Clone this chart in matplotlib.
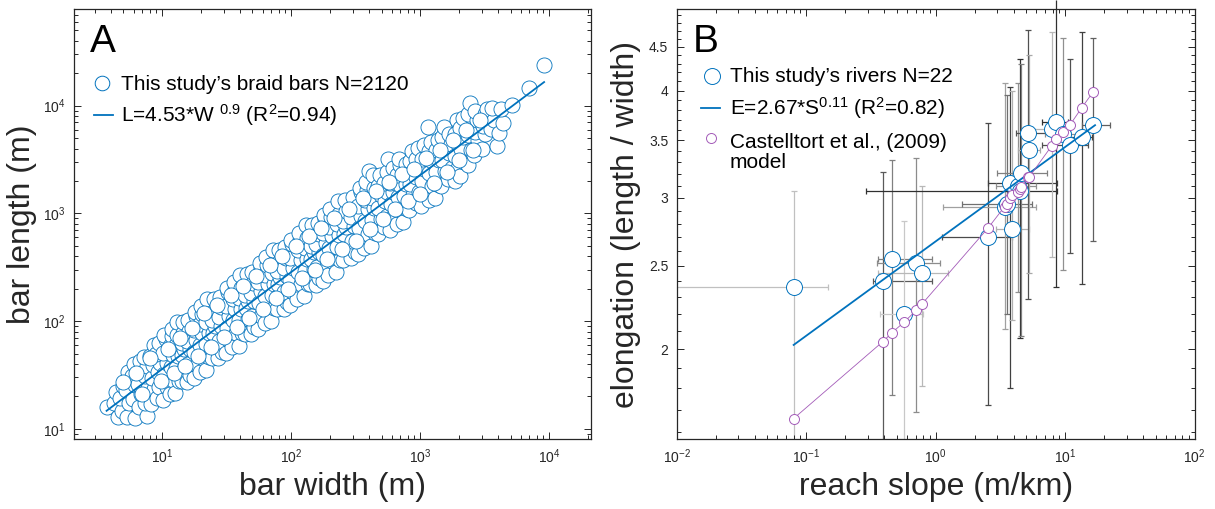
import numpy as np
import matplotlib
matplotlib.use("Agg")
import matplotlib.pyplot as plt
from matplotlib.ticker import LogLocator, FixedLocator, NullFormatter, FixedFormatter

plt.rcParams['font.family'] = ['Liberation Sans', 'DejaVu Sans']
plt.rcParams['mathtext.fontset'] = 'custom'
plt.rcParams['mathtext.rm'] = 'Liberation Sans'
plt.rcParams['mathtext.it'] = 'Liberation Sans:italic'
plt.rcParams['mathtext.bf'] = 'Liberation Sans:bold'

# ---------------- Panel A data (bar width, bar length in m) ----------------
bar_width = [
    3.7,
    4.5, 4.2, 4.4,
    4.9, 4.7, 5.0,
    5.3, 5.5, 5.2, 5.6, 5.4,
    6.1, 5.9, 6.2, 5.8, 6.0,
    6.6, 6.9, 6.5, 6.8, 6.7,
    7.6, 7.3, 7.7, 7.4, 7.6, 7.2,
    8.2, 8.6, 8.3, 8.5, 8.1, 8.7,
    9.1, 9.5, 9.2, 9.6, 9.0, 9.4,
    10.2, 10.8, 10.4, 10.9, 10.1, 10.6, 10.3,
    11.5, 12.1, 11.7, 12.2, 11.4, 11.9, 12.0,
    12.6, 13.4, 12.8, 13.3, 12.7, 13.1, 12.9,
    14.1, 14.9, 14.3, 14.8, 14.2, 14.6, 14.4,
    15.5, 16.4, 15.7, 16.3, 15.6, 16.1, 15.9,
    17.5, 18.5, 17.7, 18.3, 17.6, 18.2, 17.9,
    19.5, 20.6, 19.7, 20.4, 19.6, 20.2, 19.9,
    21.8, 23.1, 22.0, 23.0, 21.9, 22.8, 22.4,
    24.3, 25.8, 24.6, 25.6, 24.4, 25.4, 25.0,
    27.2, 28.9, 27.5, 28.7, 27.3, 28.5, 28.0,
    31, 33, 31.5, 32.8, 31.2, 32.5, 32,
    35, 37, 35.4, 36.8, 35.2, 36.5, 36,
    39, 41.2, 39.5, 41, 39.2, 40.6, 40,
    43.6, 46.3, 44.2, 46, 43.8, 45.6, 45,
    48.5, 51.5, 49.2, 51.2, 48.8, 50.8, 50,
    55.3, 58.7, 56, 58.4, 55.6, 58, 57,
    62, 66, 62.8, 65.6, 62.4, 65, 64,
    70, 74, 70.6, 73.6, 70.3, 73, 72,
    77.6, 82.4, 78.4, 82, 78, 81.4, 80,
    87.3, 92.7, 88.2, 92.2, 87.8, 91.6, 90,
    97, 103, 98, 102.5, 97.5, 101.8, 100,
    111.5, 118.5, 112.7, 117.9, 112.1, 117.1, 115,
    126, 134, 127.4, 133.3, 126.7, 132.4, 130,
    140.6, 149.4, 142.1, 148.6, 141.4, 147.6, 145,
    155, 165, 156.8, 164, 156, 163, 160,
    174.6, 185.4, 176.4, 184.5, 175.5, 183.3, 180,
    194, 206, 196, 205, 195, 203.6, 200,
    223, 237, 225.4, 235.8, 224.2, 234.1, 230,
    252, 268, 254.8, 266.5, 253.5, 264.6, 260,
    291, 309, 294, 307.5, 292.5, 305.4, 300,
    330, 350, 333, 348.5, 331.5, 346, 340,
    369, 391, 372, 389.5, 370.5, 386.8, 380, 400,
    417, 443, 421.4, 440.8, 419.3, 437.7, 430,
    466, 494, 470, 492, 468, 488,
    524, 556, 529, 553, 526.5, 549.7, 560,
    582, 618, 588, 615, 585, 610,
    660, 700, 666, 697, 663, 692, 680,
    737, 783, 745, 779, 741, 773,
    824, 876, 833, 871, 829, 864,
    921, 979, 931, 973, 926, 966,
    1018, 1082, 1029, 1076, 1024, 1068,
    1164, 1236, 1176, 1230, 1170, 1220, 1150,
    1310, 1390, 1323, 1383, 1316, 1373,
    1455, 1545, 1470, 1537, 1462, 1526,
    1650, 1750, 1666, 1742, 1658,
    1843, 1957, 1862, 1947, 1852, 1933,
    2037, 2163, 2058, 2152, 2047, 2137,
    2330, 2470, 2350, 2460, 2340, 2430,
    2620, 2780, 2650, 2760, 2640,
    3010, 3190, 3050, 3170, 3300,
    3900, 3500, 3700, 3600,
    4100, 4400, 4250,
    5100, 6900, 9100,
    5.0, 6.3, 7.0, 8.0, 9.8, 11.0, 12.4, 13.8, 15.0, 17.0, 19.0, 21.0,
    23.8, 26.5, 30, 34, 38, 42.5, 47, 53, 60, 68, 76, 85, 95, 108, 122,
    137, 152, 170, 190, 215, 245, 280, 320, 360, 410, 450, 510, 570, 640,
    720, 800, 900, 1000, 1100, 1280, 1430, 1600, 1800, 2000, 2250, 2550, 2900,
]
bar_length = [
    16,
    13.0, 17.5, 22,
    14.5, 19.5, 25,
    12.8, 17.5, 23, 29, 34,
    12.7, 19, 25.5, 31, 40,
    16, 21, 26, 35, 43,
    13.3, 17.5, 24, 31, 38, 46,
    17, 23.4, 29.4, 38.8, 47.7, 60,
    19.4, 24.4, 33.7, 40.5, 49.8, 62.8,
    18.4, 24.3, 32, 41.2, 50.7, 68.4, 75,
    20.9, 28.3, 37.2, 48, 59, 72.6, 85.3,
    21.3, 28.1, 37.1, 47.7, 60.1, 74, 97.5,
    27.7, 38.2, 48, 55.1, 63.3, 77.9, 98,
    27.5, 31.6, 39.8, 55, 66.1, 81.3, 102.4,
    29.9, 39.5, 52, 67, 82.4, 111.2, 121.9,
    33.6, 45.4, 59.9, 77.1, 95, 116.8, 137,
    35, 46.1, 60.7, 78.2, 98.5, 121.2, 159.7,
    45.2, 62.3, 78.4, 90, 103.4, 127.2, 160,
    45.4, 52.2, 65.7, 90.8, 109, 134.3, 169,
    50.2, 66.2, 87.2, 112.3, 138.3, 186.6, 204.5,
    57, 77, 101.6, 130.9, 161, 198, 232.6,
    58.5, 77.1, 101.6, 130.9, 164.8, 202.8, 267,
    76.5, 105.5, 132.7, 152.3, 175, 215.3, 271,
    76.5, 88, 110.8, 153, 184, 226.3, 285,
    84.3, 111, 146.4, 188.5, 232, 313, 343,
    95.5, 129, 170, 219, 270, 332, 390,
    99.7, 131.4, 173.2, 223, 280.7, 345.5, 455,
    128.7, 177.6, 223.5, 256.5, 294.6, 362.5, 456,
    130, 149.5, 188.2, 260, 312.5, 384.5, 484,
    140, 184.8, 243.4, 313.5, 385.8, 520.5, 570.6,
    162, 219, 288.7, 372, 457.8, 563, 661,
    169.4, 223.4, 294.3, 379, 477, 587, 774,
    219.5, 302.8, 381, 437.3, 502.3, 618, 778,
    218.5, 251.3, 316.4, 437, 525.3, 646.3, 813.7,
    237.7, 313.3, 412.7, 531.6, 654.3, 882.7, 967.6,
    267, 361, 475.8, 613, 754.5, 928, 1089,
    283, 373.3, 491.9, 633.4, 797.4, 981.3, 1293,
    371.8, 513, 645.6, 741, 851, 1047, 1318,
    384, 441.6, 556, 768, 923, 1136, 1430,
    421.4, 555.6, 731.9, 942.6, 1160, 1565, 1716,
    475, 642, 846, 1091, 1342, 1651, 1938, 2500,
    497, 655, 863, 1112, 1400, 1723, 2270,
    645, 890, 1119, 1476, 1815, 2285,
    749, 943, 1303, 1566, 1927, 2426, 3170,
    702, 925, 1219, 1569, 1932, 2612,
    802, 1084, 1429, 1841, 2266, 2788, 3170,
    830, 1094, 1442, 1857, 2338, 2877,
    1080, 1491, 1876, 2473, 3042, 3830,
    1247, 1570, 2168, 2606, 3206, 4037,
    1162, 1532, 2019, 2600, 3200, 4317,
    1338, 1808, 2383, 3071, 3780, 4649, 6300,
    1392, 1835, 2418, 3114, 3920, 4824,
    1801, 2485, 3127, 4122, 5071, 6384,
    2103, 2648, 3658, 4397, 5410,
    1983, 2614, 3444, 4435, 5460, 7366,
    2214, 2992, 3944, 5082, 6255, 7694,
    2800, 3900, 5300, 6200, 8300, 10700,
    3500, 4800, 5700, 7400, 8900,
    4000, 5500, 6500, 8400, 9300,
    4200, 6100, 7300, 9600,
    5600, 6900, 9300,
    10200, 14700, 24000,
    27, 33, 21, 45, 28, 55, 33, 70, 38, 86, 47, 120,
    58, 140, 72, 175, 88, 210, 108, 260, 130, 330, 165, 400, 200, 500, 250,
    620, 300, 740, 380, 900, 470, 1100, 560, 1400, 720, 1600, 880, 1950, 1100,
    2300, 1300, 2600, 1500, 3300, 1900, 3900, 2400, 4800, 3100, 5900, 3900, 7300,
]
fitA_coef, fitA_exp = 4.53, 0.9
fitA_range = [3.7, 9100]

# ---------------- Panel B data ----------------
slope = [0.08, 0.39, 0.46, 0.57, 0.71, 0.79, 2.55, 3.40, 3.53, 3.75, 3.91,
         4.30, 4.50, 4.53, 5.19, 5.25, 7.87, 8.49, 9.6, 10.9, 13.4, 16.5]
elong = [2.36, 2.40, 2.55, 2.20, 2.52, 2.45, 2.70, 2.93, 2.95, 3.12, 2.76,
         3.10, 3.06, 3.21, 3.57, 3.41, 3.61, 3.68, 3.56, 3.46, 3.53, 3.65]
elong_lo = [1.57, 1.57, 1.77, 1.57, 1.69, 1.81, 1.72, 2.11, 2.20, 1.80, 2.16,
            2.33, 2.06, 2.07, 2.29, 2.45, 2.56, 2.36, 2.47, 2.59, 2.38, 2.67]
elong_hi = [3.06, 3.22, 3.32, 2.82, 3.34, 3.10, 3.67, 4.08, 3.95, 4.04, 4.00,
            4.08, 4.35, 4.30, 4.71, 4.40, 4.68, 5.10, 4.61, 4.35, 4.68, 4.61]
slope_lo = [0.01, 0.33, 0.36, 0.37, 0.35, 0.36, 1.11, 1.13, 1.6, 2.55, 2.9,
            2.9, 0.29, 3.0, 4.2, 4.3, 5.5, 6.6, 7.0, 6.6, 10.0, 13.5]
slope_hi = [0.148, 0.93, 0.93, 0.80, 1.07, 1.24, 3.9, 6.0, 5.5, 8.7, 5.3,
            6.0, 8.7, 7.2, 8.0, 6.4, 8.6, 10.5, 13.0, 15.0, 16.0, 22.3]
model_elong = [1.66, 2.04, 2.09, 2.15, 2.22, 2.26, 2.77, 2.93, 2.95, 3.00, 3.02,
               3.05, 3.07, 3.09, 3.17, 3.17, 3.45, 3.51, 3.58, 3.65, 3.82, 3.99]
fitB_coef, fitB_exp = 2.67, 0.11
fitB_range = [0.08, 17.0]

# styles
err_colors = ['#c0c0c0', '#5a5a5a', '#808080', '#c8c8c8', '#8c8c8c', '#b8b8b8',
              '#4a4a4a', '#a0a0a0', '#707070', '#404040', '#b0b0b0', '#909090',
              '#303030', '#808080', '#505050', '#a8a8a8', '#b8b8b8', '#303030',
              '#909090', '#505050', '#404040', '#606060']
BLUE = '#0072BD'
PURPLE = '#A35BB8'
TXT = '#262626'

fig = plt.figure(figsize=(12.15, 5.09), dpi=100)
W, H = 1215.0, 509.0
axA = fig.add_axes([74 / W, (H - 439.3) / H, 516.7 / W, 430.3 / H])
axB = fig.add_axes([676.7 / W, (H - 439.3) / H, 518 / W, 430.3 / H])


def style_axes(ax):
    for sp in ax.spines.values():
        sp.set_color(TXT)
        sp.set_linewidth(0.9)
    ax.tick_params(which='both', direction='in', top=True, right=True,
                   colors=TXT, labelsize=10, width=0.7)
    ax.tick_params(which='major', length=5, pad=6)
    ax.tick_params(which='minor', length=2.6)


# ---------------- Panel A ----------------
axA.set_xscale('log')
axA.set_yscale('log')
axA.scatter(bar_width, bar_length, s=118, facecolors='white', edgecolors=BLUE,
            linewidths=0.6, zorder=2)
wf = np.logspace(np.log10(fitA_range[0]), np.log10(fitA_range[1]), 50)
axA.plot(wf, fitA_coef * wf ** fitA_exp, color=BLUE, lw=1.3, zorder=3)
axA.set_xlim(2.07, 2.09e4)
axA.set_ylim(8.0, 7.9e4)
axA.xaxis.set_major_locator(FixedLocator([1e1, 1e2, 1e3, 1e4]))
axA.yaxis.set_major_locator(FixedLocator([1e1, 1e2, 1e3, 1e4]))
axA.xaxis.set_minor_locator(LogLocator(base=10, subs=np.arange(2, 10)))
axA.yaxis.set_minor_locator(LogLocator(base=10, subs=np.arange(2, 10)))
axA.xaxis.set_minor_formatter(NullFormatter())
axA.yaxis.set_minor_formatter(NullFormatter())
style_axes(axA)
axA.set_xlabel('bar width (m)', fontsize=23, color=TXT, labelpad=4)
axA.set_ylabel('bar length (m)', fontsize=23, color=TXT, labelpad=4)

axA.text(0.030, 0.901, 'A', transform=axA.transAxes, fontsize=28, color='black')
axA.plot([0.0542], [0.828], transform=axA.transAxes, marker='o', ms=10.5,
         mfc='white', mec=BLUE, mew=0.7, clip_on=False)
axA.text(0.0919, 0.8125, 'This study\u2019s braid bars N=2120', transform=axA.transAxes,
         fontsize=15, color='black', va='baseline')
axA.plot([0.038, 0.075], [0.7537, 0.7537], transform=axA.transAxes, color=BLUE, lw=1.3,
         clip_on=False)
axA.text(0.0919, 0.7375, 'L=4.53*W $^{0.9}$ (R$^{2}$=0.94)', transform=axA.transAxes,
         fontsize=15, color='black', va='baseline')

# ---------------- Panel B ----------------
axB.set_xscale('log')
axB.set_yscale('log')
ylo, yhi = 1.57, 4.98
xlo, xhi = 0.01, 100
for i in range(len(slope)):
    c = err_colors[i]
    axB.plot([slope[i], slope[i]], [elong_lo[i], elong_hi[i]], color=c, lw=0.9,
             zorder=1, clip_on=False, solid_capstyle='butt')
    axB.plot([slope_lo[i], slope_hi[i]], [elong[i], elong[i]], color=c, lw=0.9,
             zorder=1, clip_on=False, solid_capstyle='butt')
    for yy in (elong_lo[i], elong_hi[i]):
        if ylo < yy < yhi:
            axB.plot([slope[i]], [yy], marker='_', ms=4.5, mew=0.9, color=c, zorder=1)
    for xx in (slope_lo[i], slope_hi[i]):
        if xlo < xx < xhi:
            axB.plot([xx], [elong[i]], marker='|', ms=4.5, mew=0.9, color=c, zorder=1)

axB.plot(slope, elong, ls='none', marker='o', ms=11.5, mfc='white', mec=BLUE,
         mew=0.7, zorder=3)
sf = np.logspace(np.log10(fitB_range[0]), np.log10(fitB_range[1]), 50)
axB.plot(sf, fitB_coef * sf ** fitB_exp, color=BLUE, lw=1.3, zorder=4)
axB.plot(slope, model_elong, color=PURPLE, lw=0.6, marker='o', ms=7.2,
         mfc='white', mec=PURPLE, mew=0.7, zorder=5)

axB.set_xlim(xlo, xhi)
axB.set_ylim(ylo, yhi)
axB.xaxis.set_major_locator(FixedLocator([1e-2, 1e-1, 1e0, 1e1, 1e2]))
axB.xaxis.set_minor_locator(LogLocator(base=10, subs=np.arange(2, 10)))
axB.xaxis.set_minor_formatter(NullFormatter())
yt = [2, 2.5, 3, 3.5, 4, 4.5]
axB.yaxis.set_major_locator(FixedLocator(yt))
axB.yaxis.set_major_formatter(FixedFormatter(['2', '2.5', '3', '3.5', '4', '4.5']))
axB.yaxis.set_minor_locator(FixedLocator(np.round(np.arange(1.6, 5.0, 0.1), 2)))
axB.yaxis.set_minor_formatter(NullFormatter())
style_axes(axB)
axB.set_xlabel('reach slope (m/km)', fontsize=23, color=TXT, labelpad=4)
axB.set_ylabel('elongation (length / width)', fontsize=23, color=TXT, labelpad=6)

axB.text(0.0315, 0.901, 'B', transform=axB.transAxes, fontsize=28, color='black')
axB.plot([(712 - 676.7) / 518], [1 - (76 - 9) / 430.3], transform=axB.transAxes,
         marker='o', ms=11.5, mfc='white', mec=BLUE, mew=0.7, clip_on=False)
axB.text((729.7 - 676.7) / 518, 1 - (82.3 - 9) / 430.3, 'This study\u2019s rivers N=22',
         transform=axB.transAxes, fontsize=15, color='black', va='baseline')
axB.plot([(701.4 - 676.7) / 518, (719.9 - 676.7) / 518], [1 - (108.3 - 9) / 430.3] * 2,
         transform=axB.transAxes, color=BLUE, lw=1.3, clip_on=False)
axB.text((729.7 - 676.7) / 518, 1 - (114.3 - 9) / 430.3, 'E=2.67*S$^{0.11}$ (R$^{2}$=0.82)',
         transform=axB.transAxes, fontsize=15, color='black', va='baseline')
axB.plot([(711.2 - 676.7) / 518], [1 - (138.3 - 9) / 430.3], transform=axB.transAxes,
         marker='o', ms=7.2, mfc='white', mec=PURPLE, mew=0.7, clip_on=False)
axB.text((729.7 - 676.7) / 518, 1 - (147.5 - 9) / 430.3, 'Castelltort et al., (2009)',
         transform=axB.transAxes, fontsize=15, color='black', va='baseline')
axB.text((729.7 - 676.7) / 518, 1 - (168.3 - 9) / 430.3, 'model',
         transform=axB.transAxes, fontsize=15, color='black', va='baseline')

fig.savefig('out.png', dpi=100)
